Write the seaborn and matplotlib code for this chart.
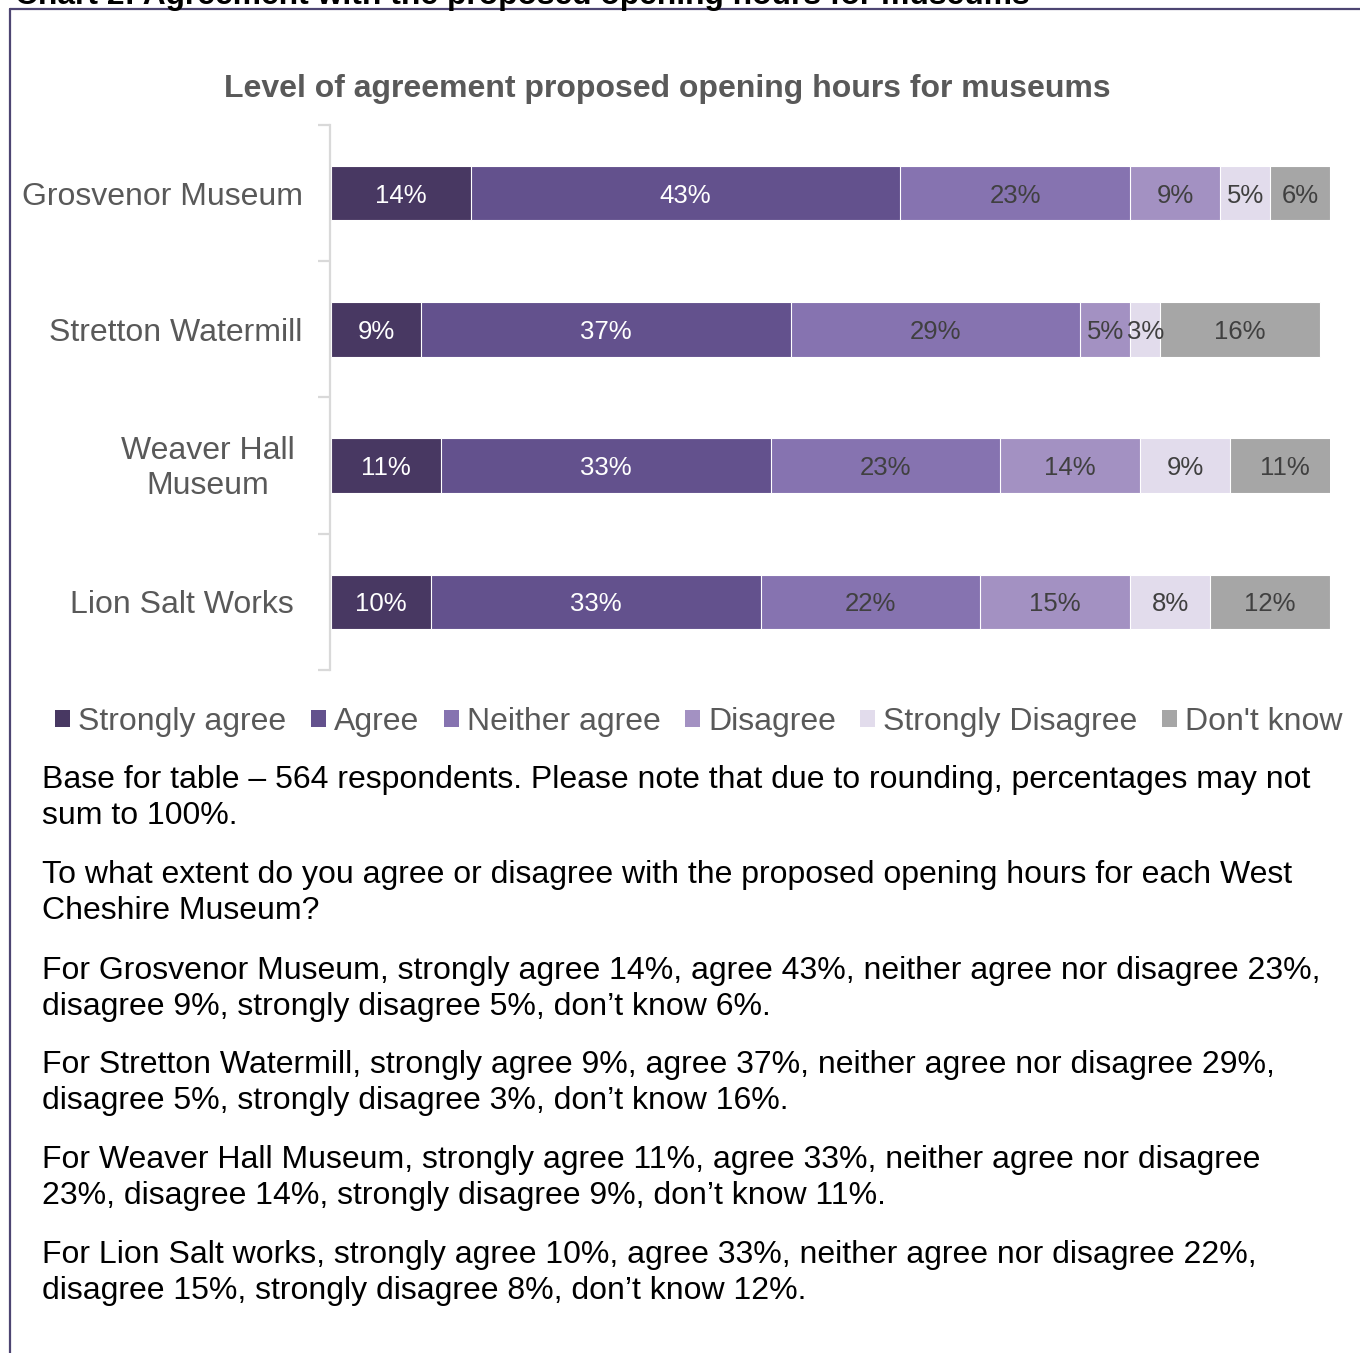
import numpy as np
import pandas as pd
import matplotlib
matplotlib.use("Agg")
import matplotlib.pyplot as plt
import matplotlib.transforms as mtransforms
from matplotlib.patches import Patch
from matplotlib.lines import Line2D
import seaborn as sns

# ---------------- data ----------------
categories = ["Grosvenor Museum", "Stretton Watermill", "Weaver Hall\nMuseum", "Lion Salt Works"]
series_names = ["Strongly agree", "Agree", "Neither agree", "Disagree", "Strongly Disagree", "Don't know"]
strongly_agree = [14, 9, 11, 10]
agree = [43, 37, 33, 33]
neither = [23, 29, 23, 22]
disagree = [9, 5, 14, 15]
strongly_disagree = [5, 3, 9, 8]
dont_know = [6, 16, 11, 12]
series_values = [strongly_agree, agree, neither, disagree, strongly_disagree, dont_know]
colors = ["#483862", "#63518d", "#8673b0", "#a391c2", "#e2dcec", "#a6a6a6"]
label_colors = ["white", "white", "#404040", "#404040", "#404040", "#404040"]

heading = "Chart 2: Agreement with the proposed opening hours for museums"
chart_title = "Level of agreement proposed opening hours for museums"
notes = [
    ["Base for table \u2013 564 respondents. Please note that due to rounding, percentages may not",
     "sum to 100%."],
    ["To what extent do you agree or disagree with the proposed opening hours for each West",
     "Cheshire Museum?"],
    ["For Grosvenor Museum, strongly agree 14%, agree 43%, neither agree nor disagree 23%,",
     "disagree 9%, strongly disagree 5%, don\u2019t know 6%."],
    ["For Stretton Watermill, strongly agree 9%, agree 37%, neither agree nor disagree 29%,",
     "disagree 5%, strongly disagree 3%, don\u2019t know 16%."],
    ["For Weaver Hall Museum, strongly agree 11%, agree 33%, neither agree nor disagree",
     "23%, disagree 14%, strongly disagree 9%, don\u2019t know 11%."],
    ["For Lion Salt works, strongly agree 10%, agree 33%, neither agree nor disagree 22%,",
     "disagree 15%, strongly disagree 8%, don\u2019t know 12%."],
]

# ---------------- style ----------------
sns.set_theme(style="white")
plt.rcParams["font.family"] = ["Liberation Sans", "DejaVu Sans"]

W, H = 1360, 1353
fig = plt.figure(figsize=(W / 100, H / 100), dpi=100)
fig.patch.set_facecolor("white")

def fx(px):
    return px / W

def fy(py):
    return 1 - py / H

ax = fig.add_axes([fx(331), fy(670), fx(1330) - fx(331), (670 - 125) / H])

vals = np.array(series_values, dtype=float)  # shape (6, 4)
cum = np.cumsum(vals, axis=0)
starts = cum - vals

df = pd.DataFrame({"category": categories})
# draw cumulative totals from the largest to the smallest, so each overlays the next
for i in range(len(series_names) - 1, -1, -1):
    df["value"] = cum[i]
    sns.barplot(data=df, x="value", y="category", orient="h", color=colors[i],
                width=0.4, saturation=1, edgecolor="white", linewidth=0.8, ax=ax)

# segment labels
for i in range(len(series_names)):
    for j in range(len(categories)):
        cx = starts[i, j] + vals[i, j] / 2
        ax.text(cx, j, f"{int(vals[i, j])}%", ha="center", va="center_baseline",
                fontsize=18.5, color=label_colors[i])

ax.set_xlim(0, 100)
ax.set_ylim(len(categories) - 0.5, -0.5)
ax.set_xlabel("")
ax.set_ylabel("")
ax.set_xticks([])
for s in ["top", "right", "bottom"]:
    ax.spines[s].set_visible(False)
ax.spines["left"].set_color("#d9d9d9")
ax.spines["left"].set_linewidth(1.6)
ax.spines["left"].set_position(("outward", 1))

ax.set_yticks(range(len(categories)))
ax.set_yticklabels(categories)
ax.set_yticks(np.arange(-0.5, len(categories), 1.0), minor=True)
ax.tick_params(axis="y", which="major", length=0, pad=19.5, labelsize=23, labelcolor="#595959")
ax.tick_params(axis="y", which="minor", length=9, width=1.6, color="#d9d9d9", direction="out", left=True)
shift = {"Weaver Hall\nMuseum": (-8, 3), "Lion Salt Works": (-9, 0)}
for lab in ax.get_yticklabels():
    lab.set_multialignment("center")
    dx, dy = shift.get(lab.get_text(), (0, 0))
    if dx or dy:
        lab.set_transform(lab.get_transform() + mtransforms.ScaledTranslation(dx / 100, dy / 100, fig.dpi_scale_trans))

# chart title
fig.text(fx(667), fy(89), chart_title, ha="center", va="center", fontsize=23,
         fontweight="bold", color="#595959")

# legend
handles = [Patch(facecolor=c, edgecolor="none") for c in colors]
fig.legend(handles, series_names, loc="center left", bbox_to_anchor=(fx(55), fy(722)),
           ncol=6, frameon=False, fontsize=23, labelcolor="#595959",
           handlelength=0.47, handleheight=0.47, handletextpad=0.25,
           columnspacing=0.77, borderpad=0, borderaxespad=0)

# document heading (clipped at the top edge, as in the source page)
fig.text(fx(15), fy(4), heading, ha="left", va="baseline", fontsize=22.9,
         fontweight="bold", color="black")

# frame lines
frame_color = "#4d4572"
fig.add_artist(Line2D([fx(10), fx(10)], [fy(9), 0], color=frame_color, linewidth=1.6))
fig.add_artist(Line2D([fx(10), 1], [fy(9), fy(9)], color=frame_color, linewidth=1.6))

# notes below the chart
para_starts = [780, 875, 971, 1065, 1160, 1255]
for p, lines in zip(para_starts, notes):
    for k, line in enumerate(lines):
        fig.text(fx(42), fy(p + 36 * k), line, ha="left", va="center", fontsize=23, color="black")

fig.savefig("out.png", dpi=100, facecolor="white")
